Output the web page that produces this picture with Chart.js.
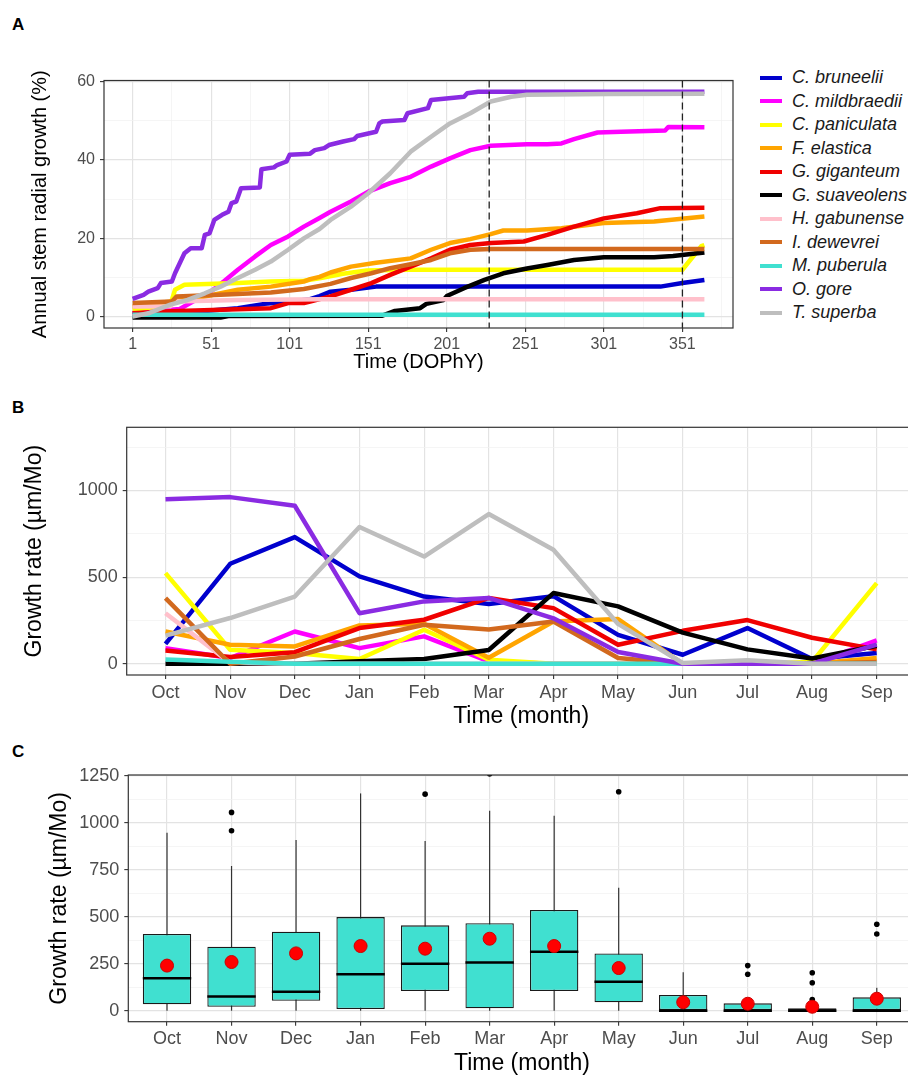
<!DOCTYPE html>
<html>
<head>
<meta charset="utf-8">
<script src="https://cdn.jsdelivr.net/npm/chart.js@4.4.1/dist/chart.umd.min.js"></script>
<style>
  html, body { margin: 0; padding: 0; background: #fff; }
  #page { position: relative; width: 908px; height: 1077px; overflow: hidden; font-family: "Liberation Sans", Arial, sans-serif; }
  canvas { position: absolute; left: 0; }
  .tag { position: absolute; left: 12px; font-weight: bold; font-size: 17px; line-height: 20px; }
  #legendA { position: absolute; left: 760px; top: 66px; }
  .item { height: 23.5px; display: flex; align-items: center; font-style: italic; font-size: 18px; color: #1a1a1a; white-space: nowrap; }
  .key { width: 22px; height: 4px; margin-right: 10px; }
</style>
</head>
<body>
<div id="page">
  <div class="tag" style="top:15px">A</div>
  <div class="tag" style="top:398px">B</div>
  <div class="tag" style="top:742px">C</div>
  <canvas id="cA" width="745" height="385" style="top:0px"></canvas>
  <div id="legendA"></div>
  <canvas id="cB" width="930" height="346" style="top:390px"></canvas>
  <canvas id="cC" width="930" height="337" style="top:740px"></canvas>
</div>
<script>
const species = ['C. bruneelii', 'C. mildbraedii', 'C. paniculata', 'F. elastica', 'G. giganteum',
  'G. suaveolens', 'H. gabunense', 'I. dewevrei', 'M. puberula', 'O. gore', 'T. superba'];
const months = ['Oct', 'Nov', 'Dec', 'Jan', 'Feb', 'Mar', 'Apr', 'May', 'Jun', 'Jul', 'Aug', 'Sep'];

// A: cumulative stem radial growth (%), [day, value]
const cumBruneelii = [[1,0.9],[45,1.4],[68,2.2],[85,3.3],[102,3.9],[114,4.5],[120,5.3],[127,6.4],[140,6.9],[156,7.7],[337,7.7],[351,8.6],[365,9.4]];
const cumMildbraedii = [[1,1.0],[31,2.0],[51,6.5],[59,9.0],[68,12.0],[79,15.4],[89,18.3],[100,20.5],[110,23.0],[120,25.2],[127,26.8],[140,29.4],[151,31.9],[165,34.1],[178,35.7],[191,38.3],[203,40.4],[216,42.5],[229,43.6],[252,44.0],[265,44.0],[274,44.2],[282,45.3],[297,47.0],[312,47.2],[340,47.5],[342,48.4],[365,48.3]];
const cumPaniculata = [[1,1.8],[25,3.0],[28,6.9],[34,8.2],[68,8.6],[89,9.0],[110,9.2],[120,9.8],[135,11.0],[150,11.8],[177,12.0],[351,12.0],[363,18.0],[365,18.3]];
const cumElastica = [[1,2.6],[25,3.9],[47,5.2],[68,6.9],[89,7.7],[110,9.0],[114,9.6],[120,10.2],[127,11.3],[140,12.8],[156,13.8],[178,14.9],[191,17.1],[203,18.8],[216,19.8],[229,21.1],[237,22.0],[252,22.0],[274,22.6],[301,23.9],[333,24.3],[365,25.6]];
const cumGiganteum = [[1,0.9],[25,1.4],[57,1.8],[89,2.2],[100,3.5],[110,3.5],[114,3.9],[127,5.2],[140,6.9],[153,8.6],[165,10.7],[178,12.8],[191,14.9],[203,17.1],[216,18.3],[229,18.8],[250,19.2],[265,20.9],[282,23.0],[301,25.1],[322,26.4],[337,27.7],[365,27.8]];
const cumSuaveolens = [[1,-0.2],[57,-0.2],[62,0.2],[160,0.3],[168,1.5],[184,2.2],[188,3.3],[199,4.3],[201,5.3],[212,7.3],[225,9.4],[237,11.1],[252,12.3],[265,13.2],[282,14.5],[301,15.2],[333,15.2],[345,15.5],[365,16.4]];
const cumGabunense = [[1,2.6],[25,2.7],[28,3.9],[68,4.3],[120,4.5],[365,4.5]];
const cumDewevrei = [[1,3.5],[26,3.9],[29,5.2],[57,5.6],[89,6.2],[110,7.1],[127,8.4],[140,9.9],[153,11.1],[165,12.4],[178,13.4],[191,14.5],[203,16.2],[216,17.1],[229,17.3],[365,17.3]];
const cumPuberula = [[1,0.5],[365,0.5]];
const cumGore = [[1,4.6],[8,5.6],[11,6.4],[17,7.3],[19,8.6],[26,9.0],[28,11.1],[34,16.2],[38,17.5],[45,17.5],[47,20.9],[50,21.3],[53,24.7],[58,26.0],[62,26.8],[64,29.0],[67,29.4],[70,32.8],[82,33.0],[83,37.6],[91,38.1],[93,38.7],[99,39.6],[101,41.3],[114,41.6],[117,42.5],[123,43.0],[126,43.8],[135,44.7],[142,45.3],[144,46.1],[156,47.2],[158,49.3],[160,49.8],[174,50.2],[176,51.9],[189,53.2],[191,55.3],[212,56.1],[214,57.0],[221,57.4],[365,57.4]];
const cumSuperba = [[1,0.1],[11,0.9],[25,3.1],[36,4.3],[47,6.0],[57,7.7],[68,9.9],[79,12.0],[89,14.1],[100,17.1],[110,20.0],[120,22.4],[127,24.7],[140,28.1],[151,31.5],[165,36.6],[178,42.1],[191,45.9],[203,49.3],[216,51.9],[229,54.9],[242,56.1],[252,56.6],[304,56.8],[365,56.9]];
const dashedDays = [228, 351];
const xTicksA = [1, 51, 101, 151, 201, 251, 301, 351];
const xMinorA = [26, 76, 126, 176, 226, 276, 326, 376];
const yTicksA = [0, 20, 40, 60];
const yMinorA = [10, 30, 50];

// B: monthly growth rate (µm/Mo)
const rateBruneelii = [115, 577, 731, 504, 388, 345, 390, 167, 52, 206, 27, 62];
const rateMildbraedii = [90, 33, 186, 90, 158, 13, 0, 0, 0, 0, 0, 135];
const ratePaniculata = [523, 81, 62, 27, 196, 23, 0, 0, 0, 0, 10, 465];
const rateElastica = [186, 110, 100, 221, 231, 35, 244, 258, 0, 0, 0, 33];
const rateGiganteum = [77, 39, 67, 206, 254, 380, 321, 110, 190, 252, 150, 83];
const rateSuaveolens = [0, 0, 0, 15, 27, 79, 408, 331, 180, 83, 30, 104];
const rateGabunense = [292, 5, 0, 0, 0, 0, 0, 0, 0, 0, 0, 0];
const rateDewevrei = [379, 0, 42, 143, 225, 198, 244, 33, 0, 0, 0, 10];
const ratePuberula = [25, 12, 0, 0, 0, 0, 0, 0, 0, 0, 0, 0];
const rateGore = [950, 962, 912, 292, 360, 380, 262, 68, 0, 0, 0, 110];
const rateSuperba = [162, 264, 388, 789, 619, 864, 658, 230, 4, 20, 0, 0];
const yTicksB = [0, 500, 1000];
const yMinorB = [250, 750, 1250];

// C: boxplot of monthly growth rate
const boxQ1 = [34, 21, 53, 9, 105, 13, 105, 45, 0, 0, 0, 0];
const boxMedian = [172, 75, 101, 194, 250, 257, 314, 154, 0, 0, 0, 0];
const boxQ3 = [408, 340, 420, 498, 454, 465, 536, 305, 84, 39, 13, 71];
const whiskerLow = [0, 0, 0, 0, 0, 0, 0, 0, 0, 0, 0, 0];
const whiskerHigh = [947, 770, 908, 1156, 903, 1064, 1037, 654, 204, 39, 13, 122];
const boxMean = [240, 259, 305, 344, 330, 383, 344, 227, 45, 37, 21, 64];
const outliers = [[1,1055],[1,957],[4,1152],[5,1260],[7,1165],[9,240],[9,194],[10,202],[10,149],[10,60],[11,460],[11,408]];
const yTicksC = [0, 250, 500, 750, 1000, 1250];
const yMinorC = [125, 375, 625, 875, 1125];

const colors = ['#0000CD', '#FF00FF', '#FFFF00', '#FFA500', '#F00000', '#000000',
  '#FFC0CB', '#D2691E', '#40E0D0', '#8A2BE2', '#BEBEBE'];
const FONT = '"Liberation Sans", Arial, sans-serif';

// legend for panel A
const legend = document.getElementById('legendA');
species.forEach((name, i) => {
  const row = document.createElement('div');
  row.className = 'item';
  row.innerHTML = '<span class="key" style="background:' + colors[i] + '"></span>' + name;
  legend.appendChild(row);
});

function gridOpts(major) {
  const isMajor = c => c.tick && major.includes(c.tick.value);
  return {
    color: c => isMajor(c) ? '#E3E3E3' : '#F1F1F1',
    lineWidth: c => isMajor(c) ? 1.2 : 0.7,
    tickColor: c => isMajor(c) ? '#333333' : 'rgba(0,0,0,0)',
    tickWidth: 1.1,
    tickLength: 4,
    drawTicks: true,
    offset: false
  };
}

function axis(o) {
  return {
    type: 'linear', min: o.min, max: o.max, offset: false,
    afterBuildTicks: s => { s.ticks = o.ticks.map(v => ({ value: v })); },
    afterFit: s => { if (o.width) s.width = o.width; if (o.height) s.height = o.height; },
    ticks: { callback: o.label, color: '#4D4D4D', font: { family: FONT, size: o.tickSize },
      padding: o.tickPad, autoSkip: false, maxRotation: 0 },
    grid: gridOpts(o.major),
    border: { display: false },
    title: { display: true, text: o.title, color: '#000', font: { family: FONT, size: o.titleSize }, padding: o.titlePad }
  };
}

const framePlugin = {
  id: 'frame',
  afterDatasetsDraw(chart) {
    const { ctx, chartArea: a } = chart;
    ctx.save();
    ctx.strokeStyle = '#333333';
    ctx.lineWidth = 1.2;
    ctx.strokeRect(a.left, a.top, a.right - a.left, a.bottom - a.top);
    ctx.restore();
  }
};

const dashPlugin = {
  id: 'dashes',
  afterDatasetsDraw(chart) {
    const { ctx, chartArea: a, scales: { x } } = chart;
    ctx.save();
    ctx.setLineDash([7, 4]);
    ctx.strokeStyle = '#222';
    ctx.lineWidth = 1.3;
    dashedDays.forEach(d => {
      const px = x.getPixelForValue(d);
      ctx.beginPath(); ctx.moveTo(px, a.top); ctx.lineTo(px, a.bottom); ctx.stroke();
    });
    ctx.restore();
  }
};

const boxPlugin = {
  id: 'boxParts',
  beforeDatasetDraw(chart, args) {
    if (args.index !== 0) return;
    const { ctx, scales: { x, y } } = chart;
    ctx.save();
    ctx.strokeStyle = '#333';
    ctx.lineWidth = 1.2;
    months.forEach((m, i) => {
      const px = x.getPixelForValue(i);
      ctx.beginPath();
      ctx.moveTo(px, y.getPixelForValue(whiskerLow[i]));
      ctx.lineTo(px, y.getPixelForValue(whiskerHigh[i]));
      ctx.stroke();
    });
    ctx.restore();
  },
  afterDatasetDraw(chart, args) {
    if (args.index !== 0) return;
    const { ctx, scales: { y } } = chart;
    ctx.save();
    ctx.strokeStyle = '#000';
    ctx.lineWidth = 2.5;
    args.meta.data.forEach((b, i) => {
      const py = y.getPixelForValue(boxMedian[i]);
      ctx.beginPath(); ctx.moveTo(b.x - b.width / 2, py); ctx.lineTo(b.x + b.width / 2, py); ctx.stroke();
    });
    ctx.restore();
  }
};

const common = {
  responsive: false, animation: false, devicePixelRatio: 1, events: [],
  plugins: { legend: { display: false }, tooltip: { enabled: false } }
};

// ---- panel A
const cumA = [cumBruneelii, cumMildbraedii, cumPaniculata, cumElastica, cumGiganteum, cumSuaveolens,
  cumGabunense, cumDewevrei, cumPuberula, cumGore, cumSuperba];
new Chart(document.getElementById('cA'), {
  type: 'line',
  data: {
    datasets: species.map((name, i) => ({
      label: name,
      data: cumA[i].map(([x, y]) => ({ x, y })),
      borderColor: colors[i], borderWidth: 4.5, pointRadius: 0, tension: 0,
      borderJoinStyle: 'round', fill: false, order: -i
    }))
  },
  options: {
    ...common,
    layout: { padding: { top: 80.5, left: 0, right: 12, bottom: 0 } },
    scales: {
      x: axis({ min: -17.2, max: 383.2, ticks: [...xTicksA, ...xMinorA].sort((a, b) => a - b), major: xTicksA,
        label: v => xTicksA.includes(v) ? String(v) : '', tickSize: 16, tickPad: 3, height: 57,
        title: 'Time (DOPhY)', titleSize: 20, titlePad: { top: 0, bottom: 11 } }),
      y: axis({ min: -2.85, max: 60.25, ticks: [...yTicksA, ...yMinorA].sort((a, b) => a - b), major: yTicksA,
        label: v => yTicksA.includes(v) ? String(v) : '', tickSize: 16, tickPad: 5, width: 104,
        title: 'Annual stem radial growth (%)', titleSize: 20, titlePad: { top: 28, bottom: 0 } })
    }
  },
  plugins: [dashPlugin, framePlugin]
});

// ---- panel B
const rateB = [rateBruneelii, rateMildbraedii, ratePaniculata, rateElastica, rateGiganteum, rateSuaveolens,
  rateGabunense, rateDewevrei, ratePuberula, rateGore, rateSuperba];
const monthIdx = months.map((m, i) => i);
new Chart(document.getElementById('cB'), {
  type: 'line',
  data: {
    datasets: species.map((name, i) => ({
      label: name,
      data: rateB[i].map((v, j) => ({ x: j, y: v })),
      borderColor: colors[i], borderWidth: 4.5, pointRadius: 0, tension: 0,
      borderJoinStyle: 'round', fill: false, order: -i
    }))
  },
  options: {
    ...common,
    layout: { padding: { top: 37.3, left: 0, right: 14.5, bottom: 0 } },
    scales: {
      x: axis({ min: -0.6, max: 11.6, ticks: monthIdx, major: monthIdx,
        label: v => months[v] || '', tickSize: 18, tickPad: 3, height: 61,
        title: 'Time (month)', titleSize: 23, titlePad: { top: 0, bottom: 5.2 } }),
      y: axis({ min: -65, max: 1365, ticks: [...yTicksB, ...yMinorB].sort((a, b) => a - b), major: yTicksB,
        label: v => yTicksB.includes(v) ? String(v) : '', tickSize: 18, tickPad: 5, width: 126.7,
        title: 'Growth rate (µm/Mo)', titleSize: 23, titlePad: { top: 21.2, bottom: 0 } })
    }
  },
  plugins: [framePlugin]
});

// ---- panel C
new Chart(document.getElementById('cC'), {
  type: 'bar',
  data: {
    datasets: [
      { type: 'bar', data: months.map((m, i) => ({ x: i, y: [boxQ1[i], boxQ3[i]] })),
        backgroundColor: '#40E0D0', borderColor: '#1a1a1a', borderWidth: 1.3, borderSkipped: false,
        barPercentage: 0.75, categoryPercentage: 1, order: 2 },
      { type: 'scatter', data: outliers.map(([i, v]) => ({ x: i, y: v })),
        pointRadius: 2.8, backgroundColor: '#000', borderWidth: 0, order: 1 },
      { type: 'scatter', data: boxMean.map((v, i) => ({ x: i, y: v })),
        pointRadius: 6.5, backgroundColor: '#FF0000', borderColor: '#CC0000', borderWidth: 1, order: 0 }
    ]
  },
  options: {
    ...common,
    layout: { padding: { top: 35, left: 0, right: 14.5, bottom: 0 } },
    scales: {
      x: axis({ min: -0.6, max: 11.6, ticks: monthIdx, major: monthIdx,
        label: v => months[v] || '', tickSize: 18, tickPad: 3, height: 55.3,
        title: 'Time (month)', titleSize: 23, titlePad: { top: 0, bottom: 0 } }),
      y: axis({ min: -58.5, max: 1254, ticks: [...yTicksC, ...yMinorC].sort((a, b) => a - b), major: yTicksC,
        label: v => yTicksC.includes(v) ? String(v) : '', tickSize: 18, tickPad: 5, width: 128.3,
        title: 'Growth rate (µm/Mo)', titleSize: 23, titlePad: { top: 46.2, bottom: 0 } })
    }
  },
  plugins: [boxPlugin, framePlugin]
});
</script>
</body>
</html>
